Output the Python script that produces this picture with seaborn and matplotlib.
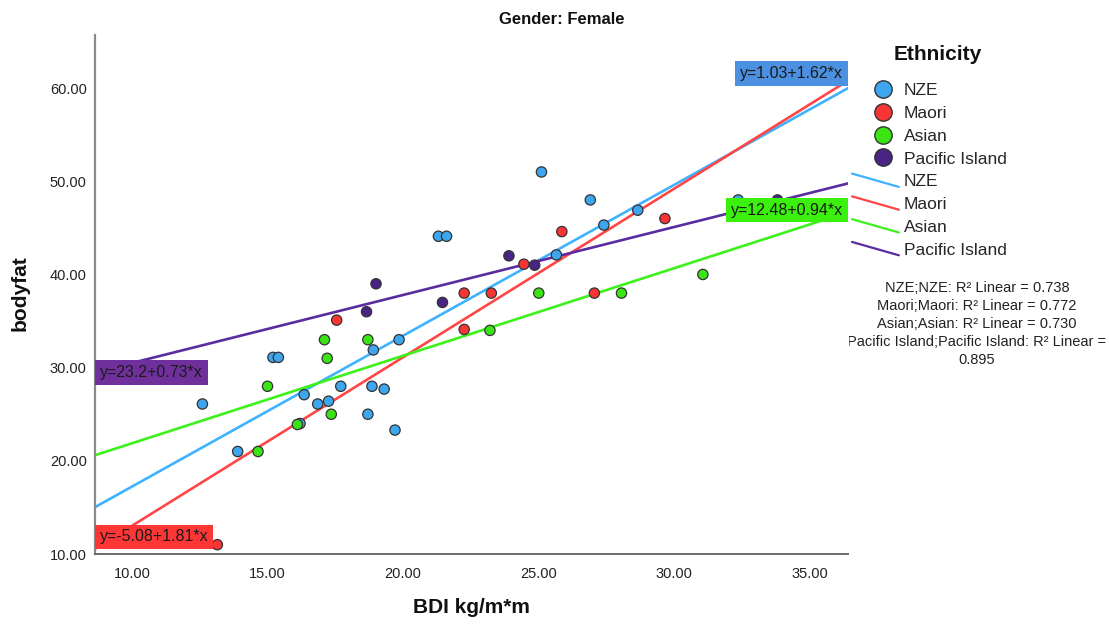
import matplotlib
matplotlib.use("Agg")
import matplotlib.pyplot as plt
from matplotlib.lines import Line2D
from matplotlib.legend_handler import HandlerBase
from matplotlib.transforms import Bbox
import numpy as np
import pandas as pd
import seaborn as sns

sns.set_theme(style="white")
plt.rcParams["font.family"] = ["Liberation Sans", "DejaVu Sans"]

# ---- data -------------------------------------------------------------
groups = ["NZE", "Maori", "Asian", "Pacific Island"]

nze_bmi = [12.6, 13.9, 15.2, 15.4, 16.35, 16.85, 17.25, 16.2, 17.7, 18.85, 19.3,
           18.7, 19.7, 18.9, 19.85, 21.3, 21.6, 25.1, 26.9, 27.4, 28.65, 25.65, 32.35]
nze_fat = [26.1, 21.0, 31.1, 31.1, 27.1, 26.1, 26.4, 24.0, 28.0, 28.0, 27.7,
           25.0, 23.3, 31.9, 33.0, 44.1, 44.1, 51.0, 48.0, 45.3, 46.9, 42.1, 48.0]

maori_bmi = [13.15, 17.55, 22.25, 23.25, 22.25, 25.85, 24.45, 27.05, 29.65]
maori_fat = [11.0, 35.1, 38.0, 38.0, 34.1, 44.6, 41.1, 38.0, 46.0]

asian_bmi = [14.65, 15.0, 16.1, 17.1, 17.2, 17.35, 18.7, 25.0, 23.2, 28.05, 31.05]
asian_fat = [21.0, 28.0, 23.9, 33.0, 31.0, 25.0, 33.0, 38.0, 34.0, 38.0, 40.0]

pacific_bmi = [18.65, 19.0, 21.45, 23.9, 24.85, 33.8]
pacific_fat = [36.0, 39.0, 37.0, 42.0, 41.0, 48.0]

# fitted linear models (intercept, slope) and R squared per group
intercepts = [1.03, -5.08, 12.48, 23.2]
slopes = [1.62, 1.81, 0.94, 0.73]
r_squared = [0.738, 0.772, 0.730, 0.895]

x_ticks = [10, 15, 20, 25, 30, 35]
y_ticks = [10, 20, 30, 40, 50, 60]

# ---- styling ----------------------------------------------------------
point_colors = ["#3DA6EE", "#F83434", "#3BE414", "#4A2485"]
line_colors = ["#3FB2FF", "#FF4545", "#3CF21A", "#5A2CA0"]
box_colors = ["#4C90E2", "#FF3636", "#3CF00E", "#70309C"]

XMIN, XMAX = 8.64, 36.4
YMIN, YMAX = 10.0, 65.7

frames = []
for g, xs, ys in zip(groups,
                     [nze_bmi, maori_bmi, asian_bmi, pacific_bmi],
                     [nze_fat, maori_fat, asian_fat, pacific_fat]):
    frames.append(pd.DataFrame({"BDI": xs, "bodyfat": ys, "Ethnicity": g}))
df = pd.concat(frames, ignore_index=True)

fig = plt.figure(figsize=(11.09, 6.24), dpi=100)
ax = fig.add_axes([95 / 1109, 70 / 624, 753 / 1109, 519 / 624])

# regression lines across the whole x range
xs_line = np.array([XMIN, XMAX])
line_rows = []
for g, a, b in zip(groups, intercepts, slopes):
    for xv in xs_line:
        line_rows.append({"BDI": xv, "bodyfat": a + b * xv, "Ethnicity": g})
lines_df = pd.DataFrame(line_rows)
sns.lineplot(data=lines_df, x="BDI", y="bodyfat", hue="Ethnicity",
             hue_order=groups, palette=line_colors, linewidth=1.9,
             legend=False, ax=ax, zorder=2)

sns.scatterplot(data=df, x="BDI", y="bodyfat", hue="Ethnicity",
                hue_order=groups, palette=point_colors, s=55,
                edgecolor="#333333", linewidth=0.9, legend=False,
                ax=ax, zorder=3)

ax.set_xlim(XMIN, XMAX)
ax.set_ylim(YMIN, YMAX)
ax.set_xticks(x_ticks)
ax.set_yticks(y_ticks)
ax.set_xticklabels([f"{v:.2f}" for v in x_ticks])
ax.set_yticklabels([f"{v:.2f}" for v in y_ticks])
ax.tick_params(axis="both", length=0, labelsize=10.5, colors="#222222")
ax.tick_params(axis="x", pad=9)
ax.tick_params(axis="y", pad=6)
for side in ["top", "right"]:
    ax.spines[side].set_visible(False)
ax.spines["left"].set_color("#8a8a8a")
ax.spines["bottom"].set_color("#6a6a6a")
ax.spines["left"].set_linewidth(1.6)
ax.spines["bottom"].set_linewidth(1.4)

ax.set_xlabel("BDI kg/m*m", fontsize=15, fontweight="bold", color="#111111",
              va="center", ha="center")
ax.set_ylabel("bodyfat", fontsize=15, fontweight="bold", color="#111111",
              va="center", ha="center")
ax.xaxis.set_label_coords(0.5, -0.104)
ax.yaxis.set_label_coords(-0.0996, 0.503)

fig.text(562 / 1109, 1 - 20 / 624, "Gender: Female", ha="center", va="center",
         fontsize=12, fontweight="bold", color="#111111")

# equation labels at the line ends
label_specs = [
    # (end, ha, va, offset pixels)
    ("right", "right", "bottom", (-5, 7)),
    ("left", "left", "center", (5, 12)),
    ("right", "right", "center", (-5, 2)),
    ("left", "left", "center", (5, 0)),
]
for (end, ha, va, off), a, b, col in zip(label_specs, intercepts, slopes, box_colors):
    xe = XMAX if end == "right" else XMIN
    ye = a + b * xe
    ax.annotate(f"y={a:g}+{b:.2f}*x", xy=(xe, ye), xytext=off,
                textcoords="offset pixels", ha=ha, va=va, fontsize=11.5,
                color="#1a1a1a", zorder=5,
                bbox=dict(boxstyle="square,pad=0.3", fc=col, ec="none"))


# legend: circles for groups, diagonal strokes for fit lines
class DiagonalLineHandler(HandlerBase):
    def create_artists(self, legend, orig_handle, xdescent, ydescent,
                       width, height, fontsize, trans):
        ln = Line2D([-xdescent, -xdescent + width],
                    [-ydescent + height * 1.05, -ydescent - height * 0.05],
                    color=orig_handle.get_color(),
                    linewidth=orig_handle.get_linewidth(), transform=trans)
        return [ln]


class CircleHandler(HandlerBase):
    def create_artists(self, legend, orig_handle, xdescent, ydescent,
                       width, height, fontsize, trans):
        mk = Line2D([-xdescent + width * 0.66], [-ydescent + height / 2],
                    marker="o", linestyle="",
                    markersize=orig_handle.get_markersize(),
                    markerfacecolor=orig_handle.get_markerfacecolor(),
                    markeredgecolor=orig_handle.get_markeredgecolor(),
                    markeredgewidth=orig_handle.get_markeredgewidth(),
                    transform=trans)
        return [mk]


point_handles = [Line2D([], [], marker="o", linestyle="", markersize=12.5,
                        markerfacecolor=c, markeredgecolor="#333333",
                        markeredgewidth=1.0) for c in point_colors]
line_handles = [Line2D([], [], color=c, linewidth=1.6) for c in line_colors]
handler_map = {h: DiagonalLineHandler() for h in line_handles}
handler_map.update({h: CircleHandler() for h in point_handles})

leg = fig.legend(point_handles + line_handles, groups + groups,
                 loc="upper left", bbox_to_anchor=(852 / 1109, 1 - 83 / 624),
                 frameon=False, fontsize=12.5,
                 handlelength=2.7, handletextpad=0.3, labelspacing=0.44,
                 borderpad=0, borderaxespad=0, handler_map=handler_map)
fig.text(938 / 1109, 1 - 55 / 624, "Ethnicity", ha="center", va="center",
         fontsize=15, fontweight="bold", color="#111111")

# R squared summary
r2_lines = [f"{g};{g}: R² Linear = {r:.3f}" for g, r in zip(groups[:3], r_squared[:3])]
r2_lines.append(f"{groups[3]};{groups[3]}: R² Linear =")
r2_lines.append(f"{r_squared[3]:.3f}")
r2_y = [288, 306, 324, 342, 360]
clip = Bbox([[849, 0], [1109, 624]])
for txt, yy in zip(r2_lines, r2_y):
    t = fig.text(977 / 1109, 1 - yy / 624, txt, ha="center", va="center",
                 fontsize=10.5, color="#222222")
    t.set_clip_box(clip)
    t.set_clip_on(True)

fig.savefig("out.png", dpi=100)
